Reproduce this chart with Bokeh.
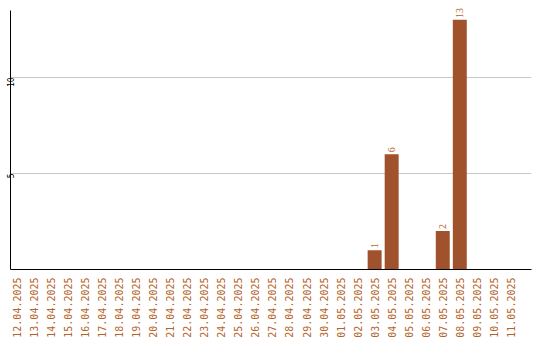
from bokeh.plotting import figure
from bokeh.models import Range1d, FixedTicker, ColumnDataSource, LabelSet
from bokeh.embed import file_html
from bokeh.resources import INLINE
import math

# daily counts, 12.04.2025 - 11.05.2025
dates = ["12.04.2025", "13.04.2025", "14.04.2025", "15.04.2025", "16.04.2025",
         "17.04.2025", "18.04.2025", "19.04.2025", "20.04.2025", "21.04.2025",
         "22.04.2025", "23.04.2025", "24.04.2025", "25.04.2025", "26.04.2025",
         "27.04.2025", "28.04.2025", "29.04.2025", "30.04.2025", "01.05.2025",
         "02.05.2025", "03.05.2025", "04.05.2025", "05.05.2025", "06.05.2025",
         "07.05.2025", "08.05.2025", "09.05.2025", "10.05.2025", "11.05.2025"]
counts = [0, 0, 0, 0, 0, 0, 0, 0, 0, 0,
          0, 0, 0, 0, 0, 0, 0, 0, 0, 0,
          0, 1, 6, 0, 0, 2, 13, 0, 0, 0]
y_ticks = [5, 10]

BAR = "#a0522d"
LABEL = "#b5632a"

idx = list(range(len(dates)))
src = ColumnDataSource(dict(x=idx, y=counts))
nz = [i for i in idx if counts[i] > 0]
lab = ColumnDataSource(dict(x=nz, y=[counts[i] for i in nz],
                            label=[str(counts[i]) for i in nz]))

p = figure(width=540, height=340, output_backend="svg", toolbar_location=None,
           x_range=Range1d(-0.38, 30.21), y_range=Range1d(0, 13.8),
           min_border_left=0, min_border_right=9, min_border_top=4,
           min_border_bottom=0)
p.outline_line_color = None
p.background_fill_color = "white"
p.border_fill_color = "white"

p.vbar(x="x", top="y", width=0.82, source=src, fill_color=BAR, line_color=None)

# value labels above the non-empty bars
p.add_layout(LabelSet(x="x", y="y", text="label", source=lab, angle=math.pi / 2,
                      text_align="left", text_baseline="middle", y_offset=2,
                      text_font="DejaVu Sans Mono", text_font_size="10px",
                      text_color=LABEL))

# x axis: one rotated date label per day
p.xaxis.ticker = FixedTicker(ticks=idx)
p.xaxis.major_label_overrides = {i: d for i, d in zip(idx, dates)}
p.xaxis.major_label_orientation = math.pi / 2
p.xaxis.major_label_text_font = "DejaVu Sans Mono"
p.xaxis.major_label_text_font_size = "10px"
p.xaxis.major_label_text_color = LABEL
p.xaxis.major_label_standoff = 8
p.xaxis.major_tick_in = 0
p.xaxis.major_tick_out = 0
p.xaxis.major_tick_line_color = None
p.xaxis.minor_tick_line_color = None
p.xaxis.axis_line_color = "black"

# y axis: small vertical labels, no ticks, line stops short of the top
p.yaxis.ticker = FixedTicker(ticks=y_ticks)
p.yaxis.bounds = (0, 13.5)
p.yaxis.major_label_orientation = math.pi / 2
p.yaxis.major_label_text_font = "DejaVu Sans Mono"
p.yaxis.major_label_text_font_size = "8px"
p.yaxis.major_label_text_color = "black"
p.yaxis.major_label_standoff = 0
p.yaxis.major_tick_in = 0
p.yaxis.major_tick_out = 0
p.yaxis.major_tick_line_color = None
p.yaxis.minor_tick_line_color = None
p.yaxis.axis_line_color = "black"

p.xgrid.grid_line_color = None
p.ygrid.grid_line_color = "#c8c8c8"
p.ygrid.ticker = FixedTicker(ticks=y_ticks)

open("out.html", "w").write(file_html(p, INLINE))
